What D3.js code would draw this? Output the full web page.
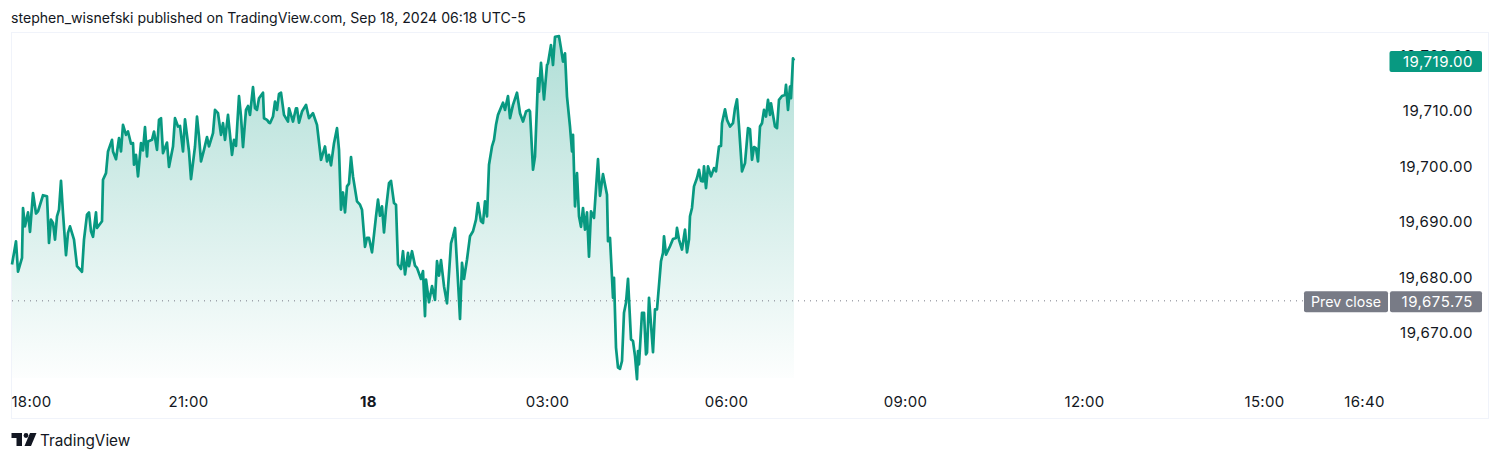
<!DOCTYPE html>
<html><head><meta charset="utf-8">
<script src="https://cdn.jsdelivr.net/npm/d3@7"></script>
<style>html,body{margin:0;padding:0;background:#fff}svg{display:block}text{font-family:Inter,"Noto Sans",sans-serif}</style>
</head><body><svg id="c" width="1500" height="461"></svg>
<script>
const barIndex=[3,5,7,9,13,14,16,19,21,24,27,29,34,38,40,42,44,46,48,50,52,54,57,59,61,65,68,73,75,78,80,82,84,87,88,93,94,97,99,103,104,107,110,112,114,117,119,122,124,125,127,129,132,134,136,138,139,143,145,148,150,152,154,158,160,164,166,169,171,174,176,180,182,186,188,190,192,195,198,200,204,206,209,212,214,216,219,223,225,227,230,232,234,237,239,241,244,246,248,250,254,255,258,260,
261,264,266,268,270,272,275,279,280,284,287,288,290,293,297,300,304,308,312,316,318,320,322,325,328,330,332,334,336,338,340,342,344,348,351,353,356,358,360,363,365,367,369,371,373,375,377,380,382,385,387,389,392,394,396,399,400,403,406,408,412,414,416,417,420,423,426,428,430,432,435,438,442,444,446,450,451,453,455,458,461,464,467,469,472,474,476,478,480,483,485,487,489,494,496,499,501,504,508,511,514,517,520,
521,524,526,529,530,532,535,538,539,542,544,546,550,552,554,556,558,561,563,564,566,568,570,572,574,576,578,580,582,585,589,591,594,598,599,601,604,605,607,609,611,613,615,617,619,622,624,626,628,629,630,633,635,637,638,640,642,644,646,648,652,654,655,657,661,664,667,668,670,673,676,678,680,681,683,685,688,690,692,694,695,697,699,702,705,707,710,712,713,716,718,721,724,726,728,730,732,733,736,738,739,741,743,745,747,749,751,753,755,757,759,761,762,766,768,770,773,776,777,779,781,782,784,785];
const closePrice=[19682.3,19684.4,19686.5,19681.0,19683.5,19692.5,19689.2,19691.7,19688.2,19695.2,19691.5,19691.9,19694.8,19694.6,19686.2,19690.4,19689.8,19686.8,19691.0,19692.2,19697.4,19691.6,19684.0,19688.0,19689.2,19686.8,19682.0,19681.0,19686.8,19691.3,19691.7,19688.3,19687.3,19691.7,19688.9,19690.1,19697.6,19698.8,19702.7,19704.8,19702.7,19701.3,19705.1,19702.7,19707.5,19705.7,19706.3,19704.1,19704.2,19700.3,19702.1,19698.2,19704.2,19702.9,19707.1,19701.8,19704.5,19704.8,19706.3,19703.0,19708.4,19708.7,19702.4,19704.3,19699.9,19703.6,19708.7,19707.2,19707.3,19702.7,19708.5,19702.7,19697.7,19703.6,19709.0,19705.4,19700.9,19703.0,19705.3,19703.6,19706.0,19710.2,19709.6,19705.7,19707.8,19704.8,19709.3,19702.1,19704.8,19703.7,19712.7,19709.0,19703.5,19710.2,19710.9,19709.3,19714.3,19710.5,19710.2,19712.3,19713.3,19708.7,19708.4,19707.9,
19707.8,19709.0,19711.7,19710.2,19713.1,19713.3,19709.3,19708.1,19710.5,19708.1,19710.5,19710.5,19707.9,19709.9,19711.1,19708.7,19709.6,19707.5,19701.2,19703.6,19700.9,19702.1,19700.2,19704.2,19706.9,19703.0,19692.2,19695.3,19691.7,19696.4,19696.9,19701.7,19698.2,19693.7,19693.1,19692.2,19685.5,19687.1,19687.1,19684.5,19687.7,19691.0,19694.0,19691.1,19692.8,19688.1,19692.3,19697.0,19697.4,19693.4,19693.1,19682.3,19681.5,19684.7,19680.5,19684.4,19682.0,19684.7,19682.1,19681.7,19679.7,19681.1,19673.0,19679.6,19675.5,19678.4,19675.9,19682.9,19680.3,19683.1,19678.4,19675.3,19686.1,19687.4,19688.9,19676.0,19672.5,19682.6,19679.7,19683.2,19687.4,19688.3,19690.4,19693.4,19690.1,19689.8,19693.7,19691.0,19700.3,19703.6,19704.8,19707.5,19709.3,19711.5,19710.2,19712.7,19708.7,19711.1,19713.3,19709.6,19708.1,19709.9,19710.2,
19709.9,19699.4,19701.8,19715.9,19713.5,19718.7,19712.1,19718.3,19718.6,19721.9,19718.3,19723.4,19723.5,19721.3,19718.9,19720.4,19712.6,19707.2,19702.7,19705.7,19692.8,19698.8,19691.0,19689.1,19692.5,19688.6,19691.7,19683.7,19691.9,19690.7,19701.3,19694.7,19698.6,19694.9,19686.5,19687.1,19676.3,19679.9,19667.3,19663.7,19663.5,19664.9,19673.6,19675.4,19679.7,19668.8,19668.5,19665.8,19661.6,19666.7,19664.3,19673.6,19673.6,19666.1,19666.4,19676.3,19671.5,19666.5,19674.2,19674.2,19682.9,19684.4,19687.4,19684.1,19685.6,19686.9,19687.1,19688.9,19686.8,19685.0,19688.6,19684.5,19686.8,19691.0,19692.5,19696.4,19697.9,19699.4,19697.4,19697.3,19700.0,19696.1,19700.0,19698.2,19699.7,19699.1,19703.6,19703.7,19707.8,19710.3,19708.4,19707.2,19707.8,19710.5,19712.1,19707.2,19701.8,19699.1,19700.6,19704.8,19706.9,19706.7,19701.2,19703.5,19703.3,19700.9,19707.2,19707.8,19710.2,19709.0,19712.0,19709.3,19711.4,19707.2,19706.9,19712.0,19712.7,19712.9,19714.7,19710.2,19714.4,19712.3,19719.5,19719.1];
const priceTicks=[19720,19710,19700,19690,19680,19670];
const timeTickBars=[22,179,359,538,717,896,1075,1255,1355];
const timeTickLabels=["18:00","21:00","18","03:00","06:00","09:00","12:00","15:00","16:40"];
const prevClose=19675.75, lastPrice=19719;
const titleText="stephen_wisnefski published on TradingView.com, Sep 18, 2024 06:18 UTC-5";

const svg=d3.select("#c");
const x=d3.scaleLinear().domain([0,1479]).range([9,1488]);
const y=d3.scaleLinear().domain([19670,19710]).range([332.7,111]);
const fmt=d3.format(",.2f");
const data=barIndex.map((b,i)=>({b,p:closePrice[i]}));
const areaBottom=378;

const g=svg.append("defs").append("linearGradient").attr("id","fill")
 .attr("gradientUnits","userSpaceOnUse").attr("x1",0).attr("x2",0).attr("y1",36).attr("y2",areaBottom);
g.append("stop").attr("offset",0).attr("stop-color","#089981").attr("stop-opacity",0.32);
g.append("stop").attr("offset",1).attr("stop-color","#089981").attr("stop-opacity",0.01);

svg.append("text").attr("x",11).attr("y",23).attr("font-size",14.1).attr("fill","#131722").text(titleText);
svg.append("rect").attr("x",11.5).attr("y",32.5).attr("width",1477).attr("height",386).attr("fill","#fff").attr("stroke","#f0f3fa");

svg.append("path").datum(data).attr("fill","url(#fill)")
 .attr("d",d3.area().x(d=>x(d.b)).y0(areaBottom).y1(d=>y(d.p)));
svg.append("line").attr("x1",12).attr("x2",1304).attr("y1",y(prevClose)).attr("y2",y(prevClose))
 .attr("stroke","#787b86").attr("stroke-width",1).attr("stroke-dasharray","1 5");
svg.append("path").datum(data).attr("fill","none").attr("stroke","#089981").attr("stroke-width",2.7).attr("stroke-linejoin","round")
 .attr("d",d3.line().x(d=>x(d.b)).y(d=>y(d.p)));

// price axis
const yAxis=svg.append("g").attr("transform","translate(1473,0)").call(d3.axisRight(y).tickValues(priceTicks).tickSize(0).tickPadding(0).tickFormat(fmt));
yAxis.select(".domain").remove();
yAxis.selectAll("text").attr("text-anchor","end").attr("x",0).attr("font-size",15).attr("letter-spacing","0.5px").attr("font-family",'Inter,"Noto Sans",sans-serif').attr("fill","#131722");

// time axis
const xAxis=svg.append("g").attr("transform","translate(0,402)").call(d3.axisBottom(x).tickValues(timeTickBars).tickSize(0).tickPadding(0).tickFormat((d,i)=>timeTickLabels[i]));
xAxis.select(".domain").remove();
xAxis.selectAll("text").attr("y",0).attr("dy",".32em").attr("font-size",15).attr("letter-spacing","0.3px").attr("font-family",'Inter,"Noto Sans",sans-serif').attr("fill","#131722")
 .attr("font-weight",(d,i)=>timeTickLabels[i]==="18"?700:400);

// tags
function tag(x0,w,yc,fill,txt,anchorX,anchor,fs,ls){
 svg.append("rect").attr("x",x0).attr("y",yc-10.5).attr("width",w).attr("height",21).attr("rx",2).attr("fill",fill);
 svg.append("text").attr("x",anchorX).attr("y",yc).attr("dy",".36em").attr("text-anchor",anchor).attr("font-size",fs).attr("letter-spacing",ls).attr("fill","#fff").text(txt);
}
tag(1389.5,92.5,y(lastPrice)+.5,"#089981",fmt(lastPrice),1473,"end",15,"0.5px");
tag(1304,84,y(prevClose)+.8,"#787b86","Prev close",1346,"middle",14.2,"0px");
tag(1390,92,y(prevClose)+.8,"#787b86",fmt(prevClose),1473,"end",15,"0.5px");

// brand
const logo=svg.append("g").attr("fill","#131722");
logo.append("path").attr("d","M11.5 433H22V446H16.5V438H11.5Z");
logo.append("circle").attr("cx",26).attr("cy",435.5).attr("r",2.4);
logo.append("path").attr("d","M30 433H36.5L31 446H24.5Z");
svg.append("text").attr("x",40).attr("y",446).attr("font-size",15.3).attr("fill","#131722").text("TradingView");
</script></body></html>
